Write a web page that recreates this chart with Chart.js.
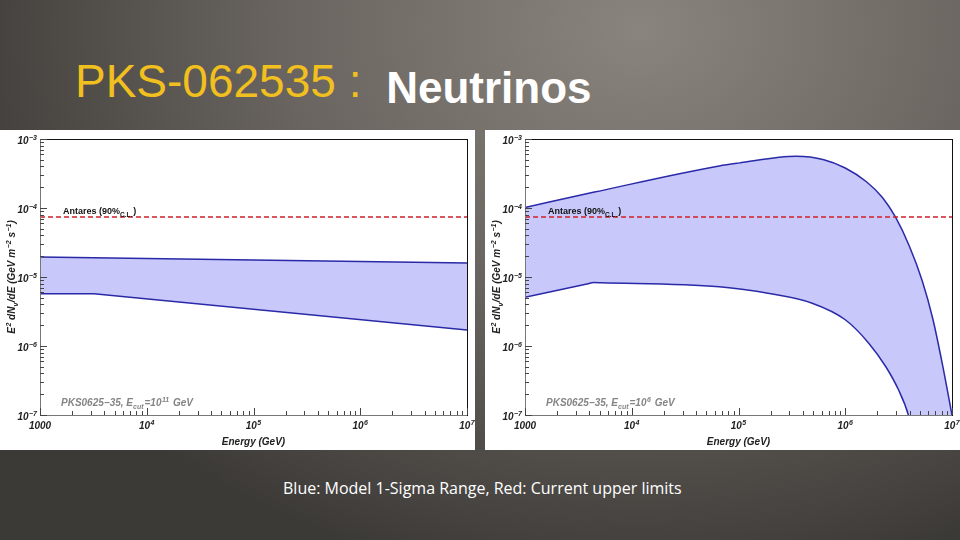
<!DOCTYPE html>
<html>
<head>
<meta charset="utf-8">
<script src="https://cdn.jsdelivr.net/npm/chart.js@4.4.0/dist/chart.umd.min.js"></script>
<style>
  body {
    margin: 0; width: 960px; height: 540px; overflow: hidden; position: relative;
    background: radial-gradient(ellipse 720px 560px at 640px 30px, #8a847e 0%, #69645f 50%, #3c3a37 100%);
    font-family: "Liberation Sans", Arial, sans-serif;
  }
  #title { position: absolute; left: 75px; top: 58px; font-size: 46px; line-height: 1; color: #f2c01e; white-space: nowrap; }
  #title b { color: #fff; font-size: 44px; position: relative; top: 6px; margin-left: 12px; }
  .panel { position: absolute; top: 130px; width: 475px; height: 320px; background: #fff; }
  #p1 { left: 0; }
  #p2 { left: 485px; }
  #caption { position: absolute; left: 283px; top: 477px; font-family: "Open Sans", sans-serif; font-size: 16px; color: #fff; white-space: nowrap; }
</style>
</head>
<body>
<div id="title">PKS-062535 : <b>Neutrinos</b></div>
<div class="panel" id="p1"><canvas id="c1" width="475" height="320"></canvas></div>
<div class="panel" id="p2"><canvas id="c2" width="475" height="320"></canvas></div>
<div id="caption">Blue: Model 1-Sigma Range, Red: Current upper limits</div>
<script>
// axis ticks ('^' marks the exponent)
const xTickValues = [1e3, 1e4, 1e5, 1e6, 1e7];
const xTickLabels = ['1000', '10^4', '10^5', '10^6', '10^7'];
const yTickValues = [1e-7, 1e-6, 1e-5, 1e-4, 1e-3];
const yTickLabels = ['10^−7', '10^−6', '10^−5', '10^−4', '10^−3'];

// Antares 90% C.L. upper limit
const antaresE = [1e3, 1e7];
const antaresF = [7.4e-5, 7.4e-5];

// left: Ecut = 10^11 GeV
const leftUpperE = [1e3, 1e5, 1e7];
const leftUpperF = [1.95e-5, 1.76e-5, 1.6e-5];
const leftLowerE = [1e3, 3.2e3, 1e7];
const leftLowerF = [5.7e-6, 5.7e-6, 1.7e-6];

// right: Ecut = 10^6 GeV
const rightUpperE = [1e3, 4.47e3, 6.6e4, 1e5, 3.47e5, 6.3e5, 1e6, 1.58e6, 2.24e6, 2.95e6, 3.98e6, 5.25e6, 6.6e6, 8.1e6, 1e7];
const rightUpperF = [1.02e-4, 1.70e-4, 4.07e-4, 4.47e-4, 5.62e-4, 5.01e-4, 3.80e-4, 2.40e-4, 1.41e-4, 7.41e-5, 2.82e-5, 8.9e-6, 2.5e-6, 5.6e-7, 1e-7];
const rightLowerE = [1e3, 3.9e3, 4.4e3, 5.2e3, 6.6e4, 1.95e5, 4.9e5, 1e6, 1.66e6, 2.4e6, 3.16e6, 3.9e6, 4.3e6, 1e7];
const rightLowerF = [5.1e-6, 8.0e-6, 8.3e-6, 8.25e-6, 7.2e-6, 5.75e-6, 4.17e-6, 2.4e-6, 1.1e-6, 5.0e-7, 2.3e-7, 1.0e-7, 5e-8, 1e-9];

const bandLine = '#2a2aa8';
const bandFill = 'rgb(200,200,250)';
const FONT = '"Liberation Sans"';

function pts(xs, ys) {
  return xs.map((x, i) => ({x: x, y: ys[i]}));
}

// draws a list of [text, size, shift, gap] pieces starting at (x, y); returns end x
function drawParts(ctx, parts, x, y, style) {
  parts.forEach(p => {
    ctx.font = style + ' ' + p[1] + 'px ' + FONT;
    ctx.fillText(p[0], x, y + p[2]);
    x += ctx.measureText(p[0]).width + (p[3] || 0);
  });
  return x;
}
function partsWidth(ctx, parts, style) {
  let w = 0;
  parts.forEach(p => { ctx.font = style + ' ' + p[1] + 'px ' + FONT; w += ctx.measureText(p[0]).width + (p[3] || 0); });
  return w;
}
function tickParts(label) {
  const s = label.split('^');
  return s.length > 1 ? [[s[0], 10, 0, 0.5], [s[1], 7, -4.5]] : [[s[0], 10, 0]];
}

// inward ROOT-style ticks, frame, tick labels and in-plot labels
const decor = {
  id: 'decor',
  afterDraw(chart, args, opts) {
    const ctx = chart.ctx, a = chart.chartArea, x = chart.scales.x, y = chart.scales.y;
    ctx.save();
    ctx.lineWidth = 1;
    ctx.strokeStyle = '#111';
    ctx.strokeRect(a.left + 0.5, a.top + 0.5, a.right - a.left, a.bottom - a.top);
    ctx.strokeStyle = '#777';
    ctx.beginPath();
    ctx.moveTo(a.left + 0.5, a.top); ctx.lineTo(a.left + 0.5, a.bottom + 0.5); ctx.lineTo(a.right, a.bottom + 0.5);
    ctx.stroke();
    ctx.strokeStyle = '#444';
    for (let e = 3; e <= 7; e++) {
      for (let k = 1; k <= 9; k++) {
        const v = k * Math.pow(10, e);
        if (v > 1e7 * 1.0001) break;
        const px = Math.round(x.getPixelForValue(v)) + 0.5;
        const len = k === 1 ? 7 : 4;
        ctx.beginPath(); ctx.moveTo(px, a.bottom); ctx.lineTo(px, a.bottom - len); ctx.stroke();
      }
    }
    for (let e = -7; e <= -3; e++) {
      for (let k = 1; k <= 9; k++) {
        const v = k * Math.pow(10, e);
        if (v > 1e-3 * 1.0001) break;
        const py = Math.round(y.getPixelForValue(v)) + 0.5;
        const len = k === 1 ? 7 : 4;
        ctx.beginPath(); ctx.moveTo(a.left, py); ctx.lineTo(a.left + len, py); ctx.stroke();
      }
    }
    ctx.textBaseline = 'alphabetic';
    ctx.fillStyle = '#222';
    const tickStyle = 'italic bold';
    // tick labels
    xTickValues.forEach((v, i) => {
      const parts = tickParts(xTickLabels[i]);
      const w = partsWidth(ctx, parts, tickStyle);
      drawParts(ctx, parts, x.getPixelForValue(v) - w / 2, a.bottom + 14, tickStyle);
    });
    yTickValues.forEach((v, i) => {
      const parts = tickParts(yTickLabels[i]);
      const w = partsWidth(ctx, parts, tickStyle);
      drawParts(ctx, parts, a.left - 3 - w, y.getPixelForValue(v) + 5, tickStyle);
    });
    // y axis title
    const yt = [['E', 10, 0, 0.5], ['2', 7, -4.5], [' dN', 10, 0], ['ν', 7, 2.5, 0.5], ['/dE (GeV m', 10, 0, 0.5], ['−2', 7, -4.5], [' s', 10, 0, 0.5], ['−1', 7, -4.5], [')', 10, 0]];
    ctx.save();
    ctx.translate(15, (a.top + a.bottom) / 2);
    ctx.rotate(-Math.PI / 2);
    drawParts(ctx, yt, -partsWidth(ctx, yt, tickStyle) / 2, 0, tickStyle);
    ctx.restore();
    // Antares label
    ctx.fillStyle = '#111';
    drawParts(ctx, [['Antares (90%', 9, 0], ['C.L.', 6.5, 2.5, 1], [')', 9, 0]], a.left + 23, y.getPixelForValue(antaresF[0]) - 3, 'bold');
    // source label
    ctx.fillStyle = '#858585';
    drawParts(ctx, [['PKS0625−35, E', 10, 0], ['cut', 7, 2.5, 1], ['=10', 10, 0, 0.5], [opts.ecutExp, 7, -4.5, 1], [' GeV', 10, 0]],
      a.left + 21, a.bottom - 9, 'italic bold');
    ctx.restore();
  }
};

function makeChart(id, upE, upF, loE, loF, smooth, ecutExp) {
  const lineOpts = smooth ? {cubicInterpolationMode: 'monotone'} : {tension: 0};
  new Chart(document.getElementById(id), {
    type: 'line',
    data: {
      datasets: [
        Object.assign({data: pts(upE, upF), borderColor: bandLine, borderWidth: 1.5, backgroundColor: bandFill, fill: '+1', pointRadius: 0, order: 2}, lineOpts),
        Object.assign({data: pts(loE, loF), borderColor: bandLine, borderWidth: 1.5, fill: false, pointRadius: 0, order: 1}, lineOpts),
        {data: pts(antaresE, antaresF), borderColor: '#d02028', borderWidth: 1.5, borderDash: [5, 3], fill: false, pointRadius: 0, tension: 0, order: 0}
      ]
    },
    options: {
      responsive: false,
      animation: false,
      devicePixelRatio: 1,
      layout: {padding: {left: 0, right: 8, top: 9, bottom: 0}},
      plugins: {legend: {display: false}, tooltip: {enabled: false}, decor: {ecutExp: ecutExp}},
      scales: {
        x: {
          type: 'logarithmic', min: 1e3, max: 1e7,
          afterFit: s => { s.height = 35; },
          afterBuildTicks: s => { s.ticks = xTickValues.map(v => ({value: v})); },
          grid: {display: false, drawTicks: false},
          border: {display: false},
          ticks: {display: false},
          title: {display: true, text: 'Energy (GeV)', color: '#222', padding: {top: 0, bottom: 2},
            font: {family: 'Liberation Sans', size: 10, style: 'italic', weight: 'bold'}}
        },
        y: {
          type: 'logarithmic', min: 1e-7, max: 1e-3,
          afterFit: s => { s.width = 40; },
          afterBuildTicks: s => { s.ticks = yTickValues.map(v => ({value: v})); },
          grid: {display: false, drawTicks: false},
          border: {display: false},
          ticks: {display: false}
        }
      }
    },
    plugins: [decor]
  });
}

makeChart('c1', leftUpperE, leftUpperF, leftLowerE, leftLowerF, false, '11');
makeChart('c2', rightUpperE, rightUpperF, rightLowerE, rightLowerF, true, '6');
</script>
</body>
</html>
